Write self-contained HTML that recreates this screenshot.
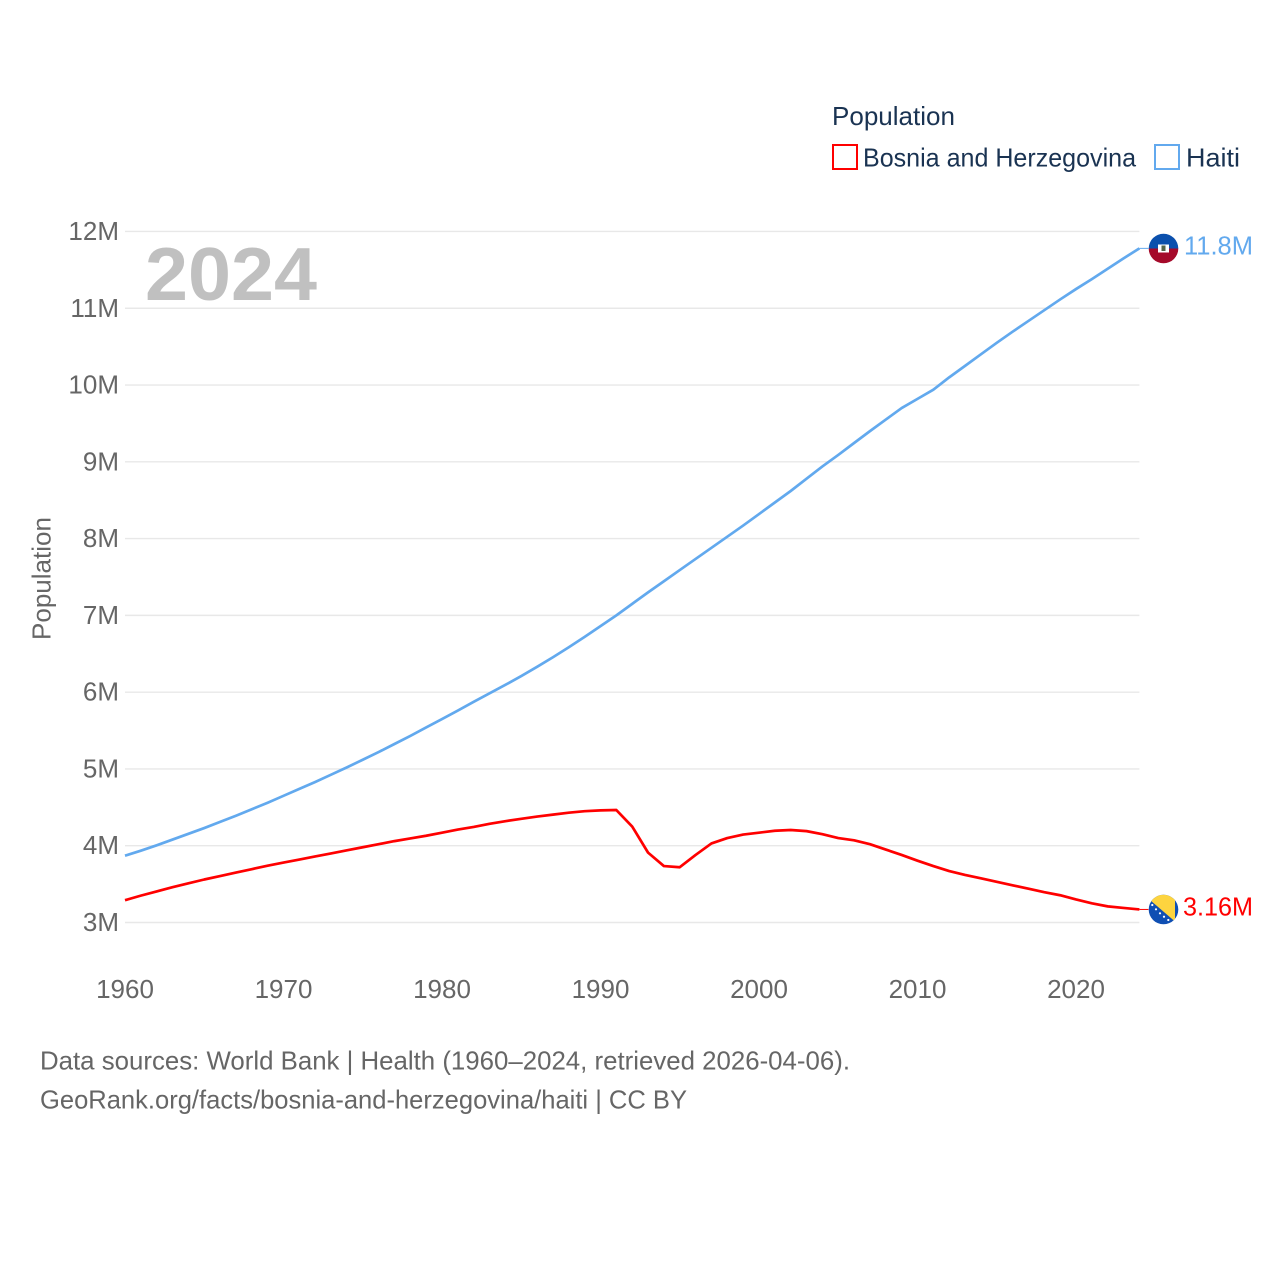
<!DOCTYPE html>
<html lang="en">
<head>
<meta charset="utf-8">
<title>Population: Bosnia and Herzegovina vs Haiti</title>
<style>
html,body{margin:0;padding:0;background:#fff;}
svg{display:block;}
text{font-family:"Liberation Sans",sans-serif;}
</style>
</head>
<body>
<svg id="chart" xmlns="http://www.w3.org/2000/svg" width="1280" height="1280" viewBox="0 0 1280 1280">
  <defs>
    <clipPath id="clip-haiti"><circle cx="1163.5" cy="248.5" r="14.8"/></clipPath>
    <clipPath id="clip-bosnia"><circle cx="1163.5" cy="909.5" r="14.8"/></clipPath>
  </defs>
  <rect x="0" y="0" width="1280" height="1280" fill="#ffffff"/>

  <g id="grid"></g>
  <g id="y-axis"></g>
  <g id="x-axis"></g>

  <text x="145" y="300" font-size="75" font-weight="700" fill="#c0c0c0" textLength="172" lengthAdjust="spacingAndGlyphs">2024</text>
  <text transform="translate(50.5,640) rotate(-90)" font-size="26" fill="#666666" textLength="123" lengthAdjust="spacingAndGlyphs">Population</text>

  <g id="series"></g>

  <g>
    <text x="832" y="125" font-size="26" fill="#1a3352" textLength="123" lengthAdjust="spacingAndGlyphs">Population</text>
    <g>
      <rect x="833" y="145" width="24" height="24" fill="none" stroke="#ff0000" stroke-width="2"/>
      <text x="863" y="166.5" font-size="26" fill="#1a3352" textLength="273" lengthAdjust="spacingAndGlyphs">Bosnia and Herzegovina</text>
    </g>
    <g>
      <rect x="1155" y="145" width="24" height="24" fill="none" stroke="#62a9ee" stroke-width="2"/>
      <text x="1186" y="166.5" font-size="26" fill="#1a3352" textLength="54" lengthAdjust="spacingAndGlyphs">Haiti</text>
    </g>
  </g>

  <g clip-path="url(#clip-haiti)">
    <rect x="1148" y="233" width="31" height="15.5" fill="#0b50ad"/>
    <rect x="1148" y="248.5" width="31" height="16" fill="#a50a2a"/>
    <rect x="1158" y="244.5" width="11" height="8" fill="#ffffff"/>
    <rect x="1161.5" y="245.5" width="4" height="5.5" fill="#55664a"/>
  </g>

  <g clip-path="url(#clip-bosnia)">
    <rect x="1148" y="894" width="31" height="31" fill="#0f4fb3"/>
    <polygon points="1147,897.5 1175,921.5 1175,893 1147,893" fill="#fdd43f"/>
    <g fill="#ffffff">
      <circle cx="1152.3" cy="905" r="1.1"/>
      <circle cx="1156" cy="909.3" r="1.1"/>
      <circle cx="1160" cy="913.3" r="1.1"/>
      <circle cx="1164" cy="916.7" r="1.1"/>
      <circle cx="1168.3" cy="920" r="1.1"/>
    </g>
  </g>

  <text x="1184" y="254.5" font-size="26" fill="#62a9ee" textLength="69" lengthAdjust="spacingAndGlyphs">11.8M</text>
  <text x="1183" y="915.5" font-size="26" fill="#ff0000" textLength="70" lengthAdjust="spacingAndGlyphs">3.16M</text>

  <text x="40" y="1069.5" font-size="26" fill="#666666" textLength="810" lengthAdjust="spacingAndGlyphs">Data sources: World Bank | Health (1960–2024, retrieved 2026-04-06).</text>
  <text x="40" y="1108.5" font-size="26" fill="#666666" textLength="647" lengthAdjust="spacingAndGlyphs">GeoRank.org/facts/bosnia-and-herzegovina/haiti | CC BY</text>
</svg>

<script>
const firstYear = 1960;
const yTicks = [3, 4, 5, 6, 7, 8, 9, 10, 11, 12];
const xTicks = [1960, 1970, 1980, 1990, 2000, 2010, 2020];
const haitiValues = [
  3.87, 3.935, 4.005, 4.08, 4.155, 4.23, 4.31, 4.39, 4.475, 4.56,
  4.65, 4.74, 4.83, 4.925, 5.02, 5.12, 5.22, 5.325, 5.43, 5.54,
  5.65, 5.76, 5.875, 5.985, 6.095, 6.21, 6.33, 6.455, 6.585, 6.72,
  6.86, 7.00, 7.15, 7.30, 7.445, 7.59, 7.735, 7.88, 8.025, 8.17,
  8.32, 8.47, 8.62, 8.78, 8.94, 9.09, 9.245, 9.40, 9.55, 9.70,
  9.82, 9.94, 10.10, 10.25, 10.40, 10.55, 10.695, 10.835, 10.975, 11.115,
  11.25, 11.38, 11.515, 11.65, 11.78
];
const bosniaValues = [
  3.29, 3.35, 3.405, 3.46, 3.51, 3.56, 3.605, 3.65, 3.695, 3.74,
  3.78, 3.82, 3.86, 3.90, 3.94, 3.98, 4.02, 4.06, 4.095, 4.13,
  4.17, 4.21, 4.245, 4.285, 4.32, 4.35, 4.38, 4.405, 4.43, 4.45,
  4.46, 4.465, 4.25, 3.91, 3.735, 3.72, 3.88, 4.03, 4.10, 4.145,
  4.17, 4.195, 4.205, 4.19, 4.15, 4.10, 4.07, 4.02, 3.95, 3.88,
  3.805, 3.735, 3.67, 3.62, 3.575, 3.53, 3.485, 3.44, 3.395, 3.355,
  3.30, 3.25, 3.21, 3.19, 3.17
];

const NS = 'http://www.w3.org/2000/svg';
function xScale(year) { return 125 + (year - 1960) * 15.85; }
function yScale(v) { return 922.5 - (v - 3) * 76.78; }

const grid = document.getElementById('grid');
const yAxis = document.getElementById('y-axis');
const xAxis = document.getElementById('x-axis');
const series = document.getElementById('series');

yTicks.forEach(function (t) {
  const line = document.createElementNS(NS, 'line');
  
  
  line.setAttribute('x1', xScale(1960));
  line.setAttribute('x2', xScale(2024));
  line.setAttribute('y1', yScale(t));
  line.setAttribute('y2', yScale(t));
  line.setAttribute('stroke', '#e8e8e8');
  line.setAttribute('stroke-width', '1.4');
  grid.appendChild(line);

  const label = document.createElementNS(NS, 'text');
  
  
  label.setAttribute('x', 119);
  label.setAttribute('y', yScale(t) + 8.5);
  label.setAttribute('text-anchor', 'end');
  label.setAttribute('font-size', '26');
  label.setAttribute('fill', '#666666');
  label.textContent = t + 'M';
  yAxis.appendChild(label);
});

xTicks.forEach(function (t) {
  const label = document.createElementNS(NS, 'text');
  
  
  label.setAttribute('x', xScale(t));
  label.setAttribute('y', 998);
  label.setAttribute('text-anchor', 'middle');
  label.setAttribute('font-size', '26');
  label.setAttribute('fill', '#666666');
  label.textContent = t;
  xAxis.appendChild(label);
});

function drawSeries(values, color) {
  const pts = values.map(function (v, i) {
    return xScale(firstYear + i).toFixed(2) + ',' + yScale(v).toFixed(2);
  });
  const last = values[values.length - 1];
  const endX = xScale(firstYear + values.length - 1);

  const leader = document.createElementNS(NS, 'line');
  
  
  leader.setAttribute('x1', endX);
  leader.setAttribute('x2', endX + 9);
  leader.setAttribute('y1', yScale(last));
  leader.setAttribute('y2', yScale(last));
  leader.setAttribute('stroke', color);
  leader.setAttribute('stroke-width', '1');
  series.appendChild(leader);

  const line = document.createElementNS(NS, 'polyline');
  
  
  line.setAttribute('points', pts.join(' '));
  line.setAttribute('fill', 'none');
  line.setAttribute('stroke', color);
  line.setAttribute('stroke-width', '2.7');
  line.setAttribute('stroke-linejoin', 'round');
  series.appendChild(line);
}

drawSeries(bosniaValues, '#ff0000');
drawSeries(haitiValues, '#62a9ee');
</script>
</body>
</html>
